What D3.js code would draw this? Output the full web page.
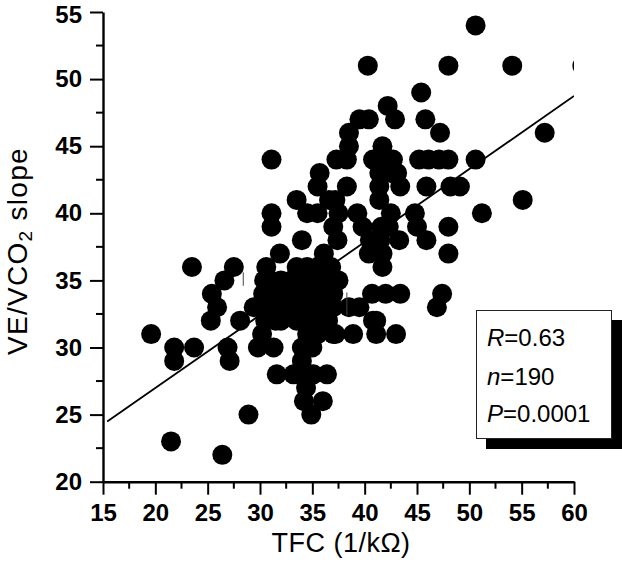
<!DOCTYPE html>
<html>
<head>
<meta charset="utf-8">
<script src="https://cdn.jsdelivr.net/npm/d3@7"></script>
<style>
    body { margin: 0; background: #fff; }
    svg { display: block; }
</style>
</head>
<body>
<div class="scatterDiv"></div>
<script>
// points grouped by VE/VCO2 slope value (y), x = TFC
const slopeRows = [54, 51, 49, 48, 47, 46, 45, 44, 43, 42, 41, 40, 39, 38, 37, 36, 35, 34, 33, 32, 31, 30, 29, 28, 27, 26, 25, 23, 22];
const tfcRows = [
    [50.6],
    [40.3, 48.0, 54.1, 60.8],
    [45.4],
    [42.2],
    [39.5, 40.4, 42.9, 45.8],
    [38.5, 47.2, 57.2],
    [38.5, 41.7],
    [31.1, 37.3, 38.3, 40.8, 41.3, 42.7, 45.2, 46.1, 47.1, 48.0, 50.6],
    [35.7, 41.4, 42.5, 43.1],
    [35.5, 38.3, 41.4, 43.4, 45.9, 48.2, 49.1],
    [33.5, 36.6, 37.2, 41.4, 55.1],
    [31.1, 34.5, 35.5, 37.5, 39.3, 42.5, 44.8, 51.2],
    [31.1, 37.0, 39.8, 41.6, 42.3, 45.0, 48.0],
    [34.0, 37.4, 40.5, 41.5, 43.3, 45.9],
    [31.9, 36.1, 40.4, 41.7, 48.0],
    [23.5, 27.5, 30.6, 33.5, 34.5, 35.5, 36.8, 41.7],
    [26.6, 30.4, 31.0, 32.0, 33.0, 34.0, 34.5, 35.0, 36.0, 37.5],
    [25.4, 30.3, 31.0, 31.5, 32.5, 33.5, 34.0, 34.5, 35.0, 35.5, 36.5, 37.0, 40.7, 42.0, 43.4, 47.4],
    [25.9, 29.4, 31.0, 32.0, 32.5, 33.0, 34.0, 34.5, 35.0, 35.5, 36.5, 37.0, 38.5, 39.5, 46.9],
    [25.3, 28.1, 30.5, 31.5, 32.0, 33.5, 34.0, 35.0, 36.0, 36.5, 40.8, 41.1],
    [19.6, 30.2, 34.5, 35.5, 37.0, 37.2, 38.9, 41.1, 43.0],
    [21.8, 23.7, 26.9, 29.8, 31.3, 34.0, 35.0],
    [21.8, 27.1, 34.0],
    [31.6, 33.2, 34.7, 35.1, 36.4],
    [34.4],
    [34.2, 36.0],
    [28.9, 34.9],
    [21.5],
    [26.4]
];

// little stray vertical marks in the original figure
const markX = [28.4, 38.3];
const markY0 = [34.6, 32.4];
const markY1 = [35.6, 34.1];

const fitIntercept = 16.1;
const fitSlope = 0.544;
const fitRange = [15.4, 60];

const xTicks = [15, 20, 25, 30, 35, 40, 45, 50, 55, 60];
const yTicks = [20, 25, 30, 35, 40, 45, 50, 55];

const statLabels = ['R', 'n', 'P'];
const statValues = ['0.63', '190', '0.0001'];

const width = 622;
const height = 579;
const tickFont = '"Liberation Sans Narrow", "Liberation Sans", Arial, sans-serif';
const textFont = '"Liberation Sans", Arial, sans-serif';

const points = [];
slopeRows.forEach((s, i) => {
    tfcRows[i].forEach(t => points.push({x: t, y: s}));
});

const svg = d3.select('.scatterDiv')
    .append('svg')
    .attr('width', width)
    .attr('height', height);

const x = d3.scaleLinear().domain([15, 60]).range([103, 574]);
const y = d3.scaleLinear().domain([20, 55]).range([481.7, 12]);

svg.append('clipPath')
    .attr('id', 'plotClip')
    .append('rect')
    .attr('x', 103)
    .attr('y', 0)
    .attr('width', 471)
    .attr('height', 482);

const plot = svg.append('g').attr('clip-path', 'url(#plotClip)');

plot.selectAll('circle')
    .data(points)
    .enter()
    .append('circle')
    .attr('cx', d => x(d.x))
    .attr('cy', d => y(d.y))
    .attr('r', 10)
    .attr('fill', '#000');

plot.append('line')
    .attr('x1', x(fitRange[0]))
    .attr('y1', y(fitIntercept + fitSlope * fitRange[0]))
    .attr('x2', x(fitRange[1]))
    .attr('y2', y(fitIntercept + fitSlope * fitRange[1]))
    .attr('stroke', '#000')
    .attr('stroke-width', 1.8);

markX.forEach((m, i) => {
    plot.append('line')
        .attr('x1', x(m)).attr('x2', x(m))
        .attr('y1', y(markY0[i])).attr('y2', y(markY1[i]))
        .attr('stroke', '#444')
        .attr('stroke-width', 1);
});

// axes
const minorX = d3.range(17.5, 60, 5);
const minorY = d3.range(22.5, 55, 5);

const xAxis = svg.append('g')
    .attr('transform', `translate(0,${y(20)})`)
    .call(d3.axisBottom(x).tickValues(xTicks).tickSize(13).tickSizeOuter(0).tickPadding(9));

svg.append('g')
    .selectAll('line')
    .data(minorX)
    .enter()
    .append('line')
    .attr('x1', d => x(d)).attr('x2', d => x(d))
    .attr('y1', y(20)).attr('y2', y(20) + 7)
    .attr('stroke', '#000')
    .attr('stroke-width', 2);

const yAxis = svg.append('g')
    .attr('transform', `translate(${x(15)},0)`)
    .call(d3.axisLeft(y).tickValues(yTicks).tickSize(13).tickSizeOuter(0).tickPadding(8));

svg.append('g')
    .selectAll('line')
    .data(minorY)
    .enter()
    .append('line')
    .attr('x1', x(15)).attr('x2', x(15) - 7)
    .attr('y1', d => y(d)).attr('y2', d => y(d))
    .attr('stroke', '#000')
    .attr('stroke-width', 2);

[xAxis, yAxis].forEach(a => {
    a.select('.domain').attr('stroke-width', 2.4);
    a.selectAll('.tick line').attr('stroke-width', 2);
    a.selectAll('.tick text')
        .attr('fill', '#000')
        .style('font-family', tickFont)
        .style('font-weight', 'bold')
        .style('font-size', '24px');
});

// keep the top label inside the page
yAxis.selectAll('.tick text')
    .filter(d => d === 55)
    .attr('dy', '0.42em');

// axis titles
svg.append('text')
    .attr('x', 341)
    .attr('y', 552)
    .attr('text-anchor', 'middle')
    .style('font-family', textFont)
    .style('font-size', '27px')
    .style('letter-spacing', '0.5px')
    .text('TFC (1/k\u03A9)');

const yTitle = svg.append('text')
    .attr('transform', 'translate(27,251) rotate(-90)')
    .attr('text-anchor', 'middle')
    .style('font-family', textFont)
    .style('font-size', '28px')
    .style('letter-spacing', '1.3px');
yTitle.append('tspan').text('VE/VCO');
yTitle.append('tspan').attr('baseline-shift', '-25%').style('font-size', '19px').text('2');
yTitle.append('tspan').text(' slope');

// stats box with drop shadow
svg.append('rect')
    .attr('x', 486).attr('y', 320)
    .attr('width', 136).attr('height', 129)
    .attr('fill', '#000');

svg.append('rect')
    .attr('x', 476.5).attr('y', 310.5)
    .attr('width', 135).attr('height', 128)
    .attr('fill', '#fff')
    .attr('stroke', '#222')
    .attr('stroke-width', 1);

const statY = [346, 385, 422];
statLabels.forEach((lab, i) => {
    const t = svg.append('text')
        .attr('x', 487)
        .attr('y', statY[i])
        .style('font-family', textFont)
        .style('font-size', '24px');
    t.append('tspan').style('font-style', 'italic').text(lab);
    t.append('tspan').text('=' + statValues[i]);
});
</script>
</body>
</html>
